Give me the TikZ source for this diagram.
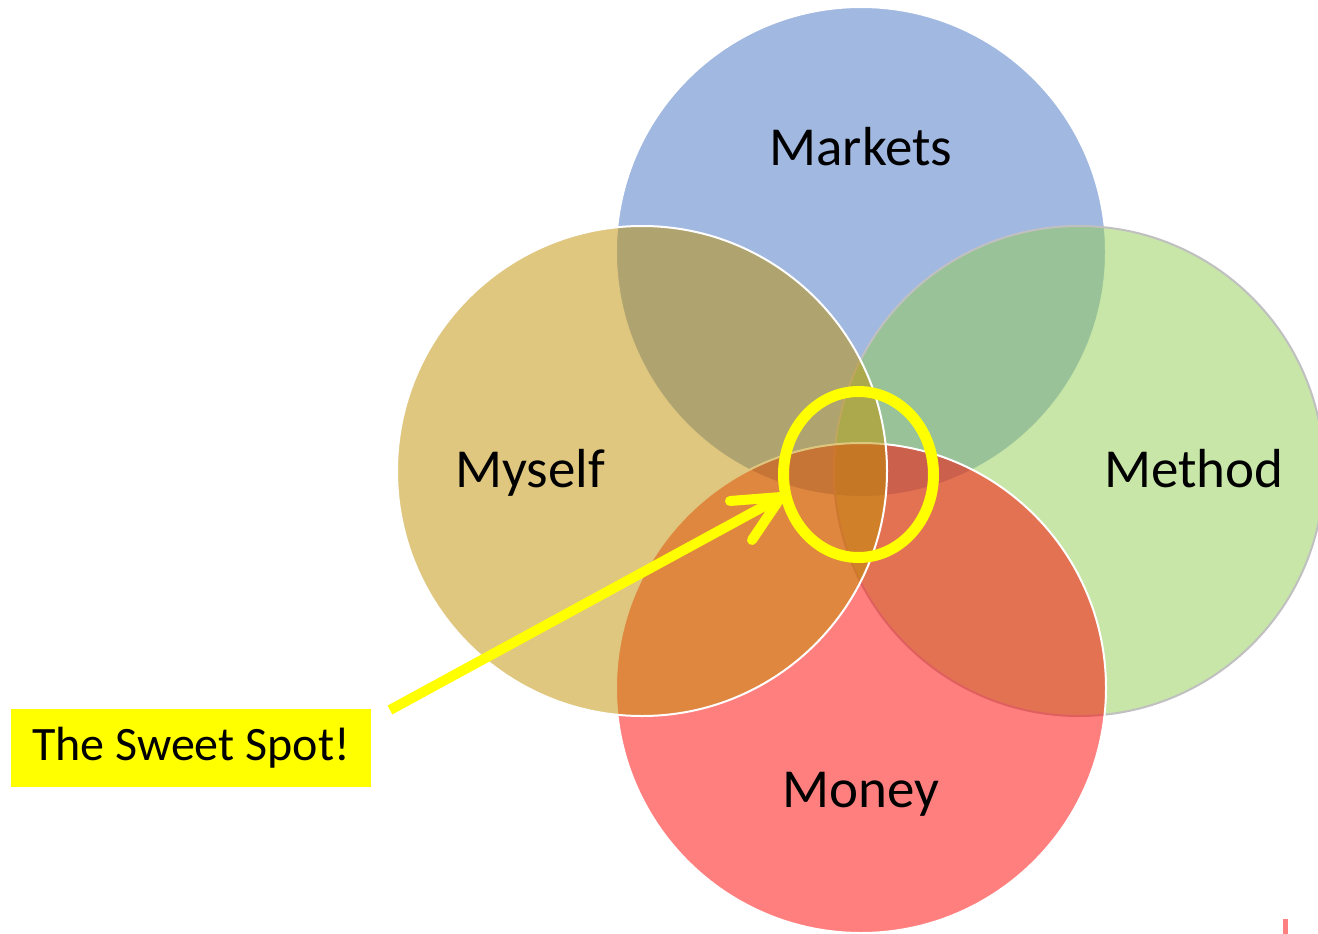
\documentclass[tikz,border=0pt]{standalone}
\usepackage{fontspec}
\setmainfont{Carlito}
\usetikzlibrary{shapes.geometric}
\definecolor{cMarkets}{RGB}{67,113,195}
\definecolor{cMethod}{RGB}{145,205,81}
\definecolor{cMoney}{RGB}{255,0,0}
\definecolor{cMyself}{RGB}{191,143,0}
\definecolor{cEdge}{RGB}{192,192,192}
\definecolor{cMark}{RGB}{255,128,128}
\definecolor{cYellow}{RGB}{255,255,0}
\tikzset{
  venn/.style={circle, minimum size=490pt, inner sep=0pt, fill opacity=0.5, draw=white, draw opacity=1, line width=2pt},
  lbl/.style={anchor=base, font=\fontsize{55}{60}\selectfont, text=black, inner sep=0pt},
  spotring/.style={ellipse, draw=cYellow, line width=11pt, minimum width=150pt, minimum height=166pt, inner sep=0pt},
  pointer/.style={draw=cYellow, line width=10pt},
  callout/.style={fill=cYellow, minimum width=360pt, minimum height=78pt, inner sep=0pt, font=\fontsize{48}{52}\selectfont}
}
\begin{document}
\begin{tikzpicture}[x=1pt, y=-1pt]
\useasboundingbox (0,0) rectangle (1318,934);
% circles
\node[venn, fill=cMarkets] (markets) at (861,252) {};
\node[venn, fill=cMethod, draw=cEdge] (method) at (1079,471) {};
\node[venn, fill=cMoney] (money) at (861,688) {};
\node[venn, fill=cMyself] (myself) at (642,471) {};
% labels
\node[lbl] (tmarkets) at (861,165) {Markets};
\node[lbl] (tmyself) at (530,487) {Myself};
\node[lbl] (tmethod) at (1194,487) {Method};
\node[lbl] (tmoney) at (861,807) {Money};
% sweet spot
\node[spotring] (spot) at (858.5,474.5) {};
\node[callout] (sweet) at (191,748) {The Sweet Spot!};
\coordinate (tail) at (390,710);
\coordinate (tip) at (781,497);
\coordinate (armA) at (730,501);
\coordinate (armB) at (752,540);
\draw[pointer] (tail) -- (tip);
\draw[pointer, line cap=round, line join=round] (armA) -- (tip) -- (armB);
% small mark at bottom right
\coordinate (markTop) at (1285,919);
\coordinate (markBot) at (1285,934);
\draw[cMark, line width=5pt] (markTop) -- (markBot);
\end{tikzpicture}
\end{document}
